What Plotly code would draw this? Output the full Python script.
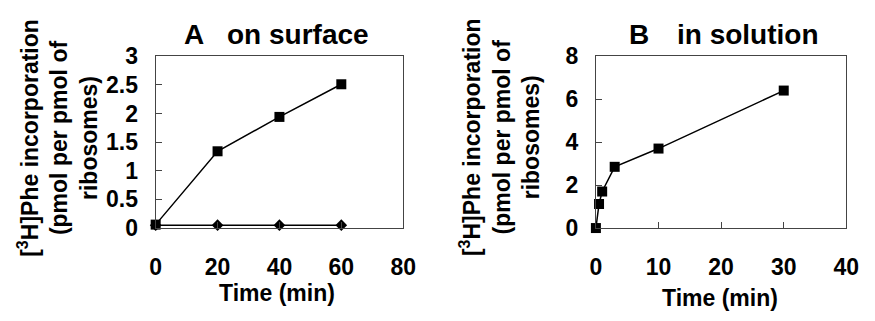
import plotly.graph_objects as go

# Panel A: on surface
time_a = [0, 20, 40, 60]
surface_squares = [0.06, 1.34, 1.94, 2.51]
surface_diamonds = [0.05, 0.05, 0.05, 0.05]

# Panel B: in solution
time_b = [0, 0.5, 1, 3, 10, 30]
solution_squares = [0.0, 1.12, 1.70, 2.85, 3.70, 6.40]

xticks_a = [0, 20, 40, 60, 80]
yticks_a = [0, 0.5, 1, 1.5, 2, 2.5, 3]
xticks_b = [0, 10, 20, 30, 40]
yticks_b = [0, 2, 4, 6, 8]

W, H = 875, 321
FONT = "Liberation Sans, Arial, Helvetica, sans-serif"

fig = go.Figure()

line_style = dict(color="black", width=1.5)
fig.add_trace(go.Scatter(x=time_a, y=surface_diamonds, mode="lines+markers",
                         line=line_style, marker=dict(symbol="diamond", size=9, color="black"),
                         cliponaxis=False, xaxis="x", yaxis="y"))
fig.add_trace(go.Scatter(x=time_a, y=surface_squares, mode="lines+markers",
                         line=line_style, marker=dict(symbol="square", size=10, color="black"),
                         cliponaxis=False, xaxis="x", yaxis="y"))
fig.add_trace(go.Scatter(x=time_b, y=solution_squares, mode="lines+markers",
                         line=line_style, marker=dict(symbol="square", size=10, color="black"),
                         cliponaxis=False, xaxis="x2", yaxis="y2"))

def px_x(p):
    return p / W

def px_y(p):
    return 1 - p / H

ydom = [px_y(234), px_y(47)]
axis_common = dict(showline=True, mirror=True, linecolor="#444", linewidth=1,
                   ticks="inside", ticklen=6, tickcolor="#444", tickwidth=1,
                   showgrid=False, zeroline=False, fixedrange=True,
                   tickfont=dict(family=FONT, size=23, color="black", weight="bold"))

fig.update_layout(
    width=W, height=H,
    margin=dict(l=0, r=0, t=0, b=0),
    paper_bgcolor="white", plot_bgcolor="white",
    showlegend=False,
    font=dict(family=FONT, color="black"),
    xaxis=dict(domain=[px_x(153), px_x(406)], range=[0, 80], tickvals=xticks_a,
               anchor="y", ticklabelstandoff=18, **axis_common),
    yaxis=dict(domain=ydom, range=[0, 3], tickvals=yticks_a, anchor="x",
               ticklabelstandoff=12, **axis_common),
    xaxis2=dict(domain=[px_x(603), px_x(859)], range=[0, 40], tickvals=xticks_b,
                anchor="y2", ticklabelstandoff=18, **axis_common),
    yaxis2=dict(domain=ydom, range=[0, 8], tickvals=yticks_b, anchor="x2",
                ticklabelstandoff=12, **axis_common),
)

def ann(text, x, y, size, angle=0):
    fig.add_annotation(text=text, x=px_x(x), y=px_y(y), xref="paper", yref="paper",
                       showarrow=False, textangle=angle, xanchor="center", yanchor="middle",
                       font=dict(family=FONT, size=size, color="black", weight="bold"))

ytitle = "[<sup>3</sup>H]Phe incorporation<br>(pmol per pmol of<br>ribosomes)"
ann("A", 192, 23, 28)
ann("on surface", 298, 23, 28)
ann("B", 647, 23, 28)
ann("in solution", 758, 23, 28)
ann(ytitle, 53, 136, 23, -90)
ann(ytitle, 504, 135, 23, -90)
ann("Time (min)", 277, 305, 23)
ann("Time (min)", 730, 310, 23)

post = (
    "document.documentElement.style.margin='0';"
    "document.body.style.margin='0';document.body.style.padding='0';"
    "document.body.style.overflow='hidden';"
    "var d=document.querySelector('.plotly-graph-div');"
    "d.style.position='fixed';d.style.left='0px';d.style.top='0px';"
)

fig.write_html("out.html", config={"displayModeBar": False}, post_script=post)
